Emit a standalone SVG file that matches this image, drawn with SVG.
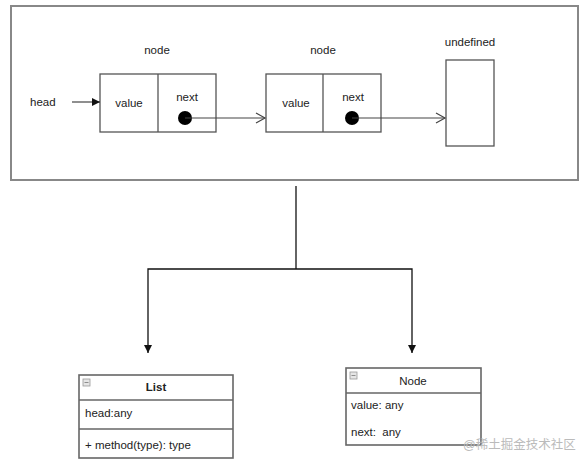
<svg xmlns="http://www.w3.org/2000/svg" width="585" height="465" viewBox="0 0 585 465">
<style>
text{font-family:"Liberation Sans",Arial,sans-serif;font-size:11.5px;fill:#222}
.c{text-anchor:middle}
.box{fill:#fff;stroke:#555;stroke-width:1.3}
.cls{fill:#fff;stroke:#666;stroke-width:1.6}
.ln{fill:none;stroke:#444;stroke-width:1.2}
.blk{fill:none;stroke:#111;stroke-width:1.3}
.icon{fill:#e6e6e6;stroke:#999;stroke-width:0.8}
</style>
<defs>
<marker id="open" markerWidth="12" markerHeight="12" refX="10" refY="6" orient="auto" markerUnits="userSpaceOnUse">
<path d="M1,1 L10,6 L1,11" fill="none" stroke="#444" stroke-width="1.2"/>
</marker>
<marker id="fill" markerWidth="10" markerHeight="10" refX="8" refY="5" orient="auto" markerUnits="userSpaceOnUse">
<path d="M0,1 L8,5 L0,9 Z" fill="#111"/>
</marker>
</defs>
<rect x="0" y="0" width="585" height="465" fill="#fff"/>
<g id="container">
<rect x="11" y="6" width="567" height="174" fill="#fff" stroke="#888" stroke-width="2"/>
</g>
<g id="head-label"><text x="30" y="106">head</text></g>
<g id="node1">
<text class="c" x="157" y="54">node</text>
<rect class="box" x="100" y="74" width="116" height="58"/>
<line class="box" x1="158" y1="74" x2="158" y2="132"/>
<text class="c" x="129" y="107">value</text>
<text class="c" x="187" y="101">next</text>
<circle cx="185" cy="118" r="7" fill="#000"/>
</g>
<g id="node2">
<text class="c" x="323" y="54">node</text>
<rect class="box" x="266" y="74" width="115" height="58"/>
<line class="box" x1="323" y1="74" x2="323" y2="132"/>
<text class="c" x="296" y="107">value</text>
<text class="c" x="353" y="101">next</text>
<circle cx="352" cy="118" r="7" fill="#000"/>
</g>
<g id="undefined">
<text class="c" x="470" y="46">undefined</text>
<rect class="box" x="446" y="60" width="48" height="86"/>
</g>
<g id="list-class">
<rect class="cls" x="79" y="375" width="154" height="83"/>
<line class="cls" x1="79" y1="400" x2="233" y2="400"/>
<line class="cls" x1="79" y1="429" x2="233" y2="429"/>
<rect class="icon" x="83" y="379" width="7" height="7"/>
<line x1="84.5" y1="382.5" x2="88.5" y2="382.5" stroke="#777" stroke-width="0.8"/>
<text class="c" x="156" y="391" font-weight="bold">List</text>
<text x="85" y="417">head:any</text>
<text x="85" y="449">+ method(type): type</text>
</g>
<g id="node-class">
<rect class="cls" x="346" y="368" width="135" height="77"/>
<line class="cls" x1="346" y1="393" x2="481" y2="393"/>
<rect class="icon" x="350" y="372" width="7" height="7"/>
<line x1="351.5" y1="375.5" x2="355.5" y2="375.5" stroke="#777" stroke-width="0.8"/>
<text class="c" x="413" y="385">Node</text>
<text x="351" y="409">value: any</text>
<text x="351" y="436" style="white-space:pre">next:  any</text>
</g>
<g id="connectors">
<line class="ln" x1="72" y1="102" x2="100" y2="102" marker-end="url(#fill)"/>
<line class="ln" x1="185" y1="118" x2="265" y2="118" marker-end="url(#open)"/>
<line class="ln" x1="352" y1="118" x2="445" y2="118" marker-end="url(#open)"/>
<polyline class="blk" points="296,186 296,269"/>
<polyline class="blk" points="148,353 148,269 412,269 412,353"/>
<path d="M144,345 L152,345 L148,353 Z" fill="#111"/>
<path d="M408,345 L416,345 L412,353 Z" fill="#111"/>
</g>
<g id="watermark"><text x="463" y="449" style="fill:#bbb;font-size:12.5px;font-family:'Liberation Sans','Noto Sans CJK SC',sans-serif">@稀土掘金技术社区</text></g>
</svg>
